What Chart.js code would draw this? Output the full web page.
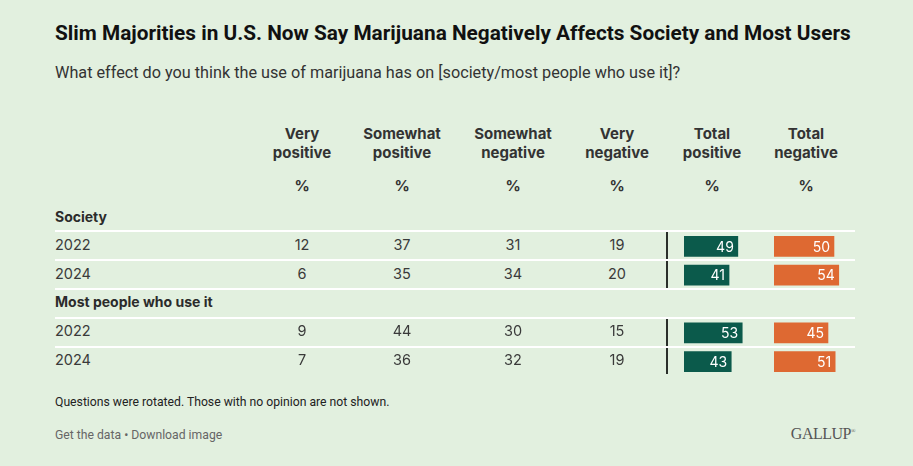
<!DOCTYPE html>
<html>
<head>
<meta charset="utf-8">
<script src="https://cdn.jsdelivr.net/npm/chart.js@4.4.1/dist/chart.umd.min.js"></script>
<style>
  body {
    margin: 0;
    width: 913px;
    height: 466px;
    overflow: hidden;
    position: relative;
    background: #e2f0df;
    font-family: Inter, 'Noto Sans', sans-serif;
    color: #2b2b2b;
  }
  .abs { position: absolute; white-space: nowrap; }
  .fit { transform-origin: left center; }
  .title { font: 700 20px Roboto, sans-serif; color: #111; }
  .subtitle { font: 400 17px Roboto, sans-serif; color: #333; }
  .head { font: 700 15px Inter, sans-serif; line-height: 19px; text-align: center; color: #333; }
  .group { font: 700 14px Inter, sans-serif; color: #2b2b2b; }
  .cell { font: 400 14.5px Inter, sans-serif; color: #3a3a3a; }
  .note { font: 400 13px Roboto, sans-serif; color: #222; }
  .links { font: 400 13px Roboto, sans-serif; color: #666; }
  .logo { font: 400 16px 'Liberation Serif', serif; color: #555; letter-spacing: -0.5px; }
  .hline { position: absolute; left: 55px; width: 800px; height: 2px; background: #fff; }
  .vline { position: absolute; left: 666px; width: 2px; background: #2a2f2a; }
  canvas { position: absolute; }
</style>
</head>
<body>
<div class="abs fit title" id="title" style="left:55px; top:21px;">Slim Majorities in U.S. Now Say Marijuana Negatively Affects Society and Most Users</div>
<div class="abs fit subtitle" id="subtitle" style="left:55px; top:62px;">What effect do you think the use of marijuana has on [society/most people who use it]?</div>
<div class="abs fit note" id="note" style="left:55px; top:394px;">Questions were rotated. Those with no opinion are not shown.</div>
<div class="abs fit links" id="links" style="left:55px; top:427px;">Get the data • Download image</div>
<div class="abs logo" style="right:58px; top:425px;">GALLUP<sup style="font-size:6px;">®</sup></div>

<canvas id="posChart" width="78" height="144" style="left:684px; top:232px;"></canvas>
<canvas id="negChart" width="80" height="144" style="left:774px; top:232px;"></canvas>

<script>
// Table columns and rows
const columns = ['Very\npositive', 'Somewhat\npositive', 'Somewhat\nnegative', 'Very\nnegative', 'Total\npositive', 'Total\nnegative'];
const groups = ['Society', 'Most people who use it'];
const years = ['2022', '2024'];

// Values per row: Society 2022, Society 2024, Users 2022, Users 2024
const veryPositive = [12, 6, 9, 7];
const somewhatPositive = [37, 35, 44, 36];
const somewhatNegative = [31, 34, 30, 32];
const veryNegative = [19, 20, 15, 19];
const totalPositive = [49, 41, 53, 43];
const totalNegative = [50, 54, 45, 51];

// Column centres and row centres of the table
const colX = [302, 402, 513, 617, 712, 806];
const groupY = [217, 302];
const rowY = [245, 274, 331, 360];
const lineY = [231, 260, 289, 318, 347];

const green = '#0b5a4b';
const orange = '#de6932';

const add = function addTextElement(text, cls, left, top, extra) {
  const el = document.createElement('div');
  el.className = 'abs ' + cls;
  el.innerHTML = text;
  el.style.left = left + 'px';
  el.style.top = top + 'px';
  if (extra) Object.assign(el.style, extra);
  document.body.appendChild(el);
  return el;
};

// Column headers and % markers
columns.forEach((col, i) => {
  add(col.replace('\n', '<br>'), 'head', colX[i] - 60, 124, { width: '120px' });
  add('%', 'head', colX[i] - 60, 176, { width: '120px' });
});

// Group labels
groups.forEach((g, i) => add(g, 'group', 55, groupY[i] - 9));

// Vertical separator before the totals
[[230, 289], [318, 374]].forEach(([a, b]) => {
  const v = document.createElement('div');
  v.className = 'vline';
  v.style.top = a + 'px';
  v.style.height = (b - a) + 'px';
  document.body.appendChild(v);
});

// Row separators
lineY.forEach((y) => {
  const l = document.createElement('div');
  l.className = 'hline';
  l.style.top = (y - 1) + 'px';
  document.body.appendChild(l);
});

// Year labels and number cells
const numberCols = [veryPositive, somewhatPositive, somewhatNegative, veryNegative];
rowY.forEach((y, r) => {
  add(years[r % 2], 'cell', 55, y - 9);
  numberCols.forEach((series, c) => {
    add(String(series[r]), 'cell', colX[c] - 40, y - 9, { width: '80px', textAlign: 'center' });
  });
});

// Bar rows: group header row in the middle stays empty
const barLabels = [years[0], years[1], groups[1], years[0], years[1]];
const withGap = (arr) => [arr[0], arr[1], null, arr[2], arr[3]];

const valueLabels = {
  id: 'valueLabels',
  afterDatasetsDraw(chart) {
    const ctx = chart.ctx;
    ctx.save();
    ctx.font = '14px Inter, sans-serif';
    ctx.fillStyle = '#ffffff';
    ctx.textAlign = 'right';
    ctx.textBaseline = 'middle';
    chart.getDatasetMeta(0).data.forEach((bar, i) => {
      const v = chart.data.datasets[0].data[i];
      if (v == null) return;
      ctx.fillText(v, bar.x - 4, bar.y + 1);
    });
    ctx.restore();
  },
};

const makeBars = function makeBarChart(id, values, color, max) {
  return new Chart(document.getElementById(id), {
    type: 'bar',
    data: {
      labels: barLabels,
      datasets: [{ data: withGap(values), backgroundColor: color, barThickness: 20 }],
    },
    options: {
      indexAxis: 'y',
      responsive: false,
      animation: false,
      layout: { padding: 0 },
      plugins: { legend: { display: false }, tooltip: { enabled: false } },
      scales: {
        x: { display: false, min: 0, max: max },
        y: { display: false },
      },
    },
    plugins: [valueLabels],
  });
};

makeBars('posChart', totalPositive, green, 71);
makeBars('negChart', totalNegative, orange, 66.7);

// Squeeze the condensed-looking texts to the reference widths
const fit = function fitWidth(id, target) {
  const el = document.getElementById(id);
  el.style.transform = 'scaleX(' + (target / el.offsetWidth) + ')';
};
document.fonts.ready.then(() => {
  fit('title', 796);
  fit('subtitle', 625);
  fit('note', 334);
  fit('links', 167);
});
</script>
</body>
</html>
